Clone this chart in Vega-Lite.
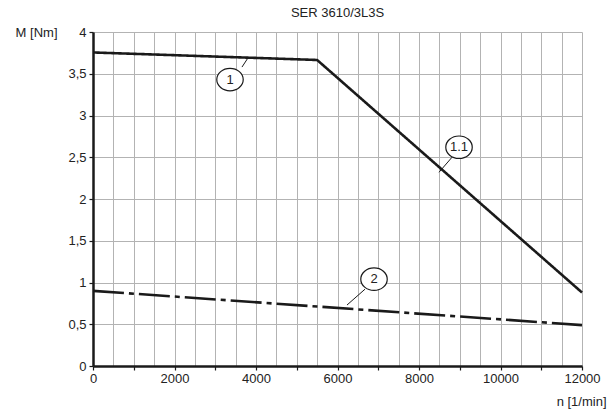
{
  "$schema": "https://vega.github.io/schema/vega-lite/v6.json",
  "width": 489,
  "height": 334,
  "autosize": {"type": "none"},
  "padding": {"left": 93, "top": 32, "right": 28, "bottom": 44},
  "background": "white",
  "config": {
    "view": {"stroke": null},
    "font": "Liberation Sans",
    "text": {"font": "Liberation Sans"}
  },
  "title": {
    "text": "SER 3610/3L3S",
    "fontSize": 13,
    "fontWeight": "normal",
    "color": "#222",
    "anchor": "middle",
    "offset": 6
  },
  "datasets": {
    "curves": [
      {"s": "1", "n": 0, "M": 3.755},
      {"s": "1", "n": 5500, "M": 3.665},
      {"s": "1", "n": 12000, "M": 0.88},
      {"s": "2", "n": 0, "M": 0.9},
      {"s": "2", "n": 12000, "M": 0.49}
    ],
    "leaders": [
      {"n": 3656, "M": 3.58, "n2": 3804, "M2": 3.69},
      {"n": 8810, "M": 2.5, "n2": 8491, "M2": 2.32},
      {"n": 6675, "M": 0.92, "n2": 6233, "M2": 0.73}
    ],
    "labels": [
      {"label": "1", "n": 3362, "M": 3.43},
      {"label": "1.1", "n": 8982, "M": 2.62},
      {"label": "2", "n": 6896, "M": 1.04}
    ]
  },
  "encoding": {
    "x": {
      "field": "n",
      "type": "quantitative",
      "scale": {"domain": [0, 12000], "nice": false, "zero": false},
      "axis": {
        "values": [0,500,1000,1500,2000,2500,3000,3500,4000,4500,5000,5500,6000,6500,7000,7500,8000,8500,9000,9500,10000,10500,11000,11500,12000],
        "grid": true,
        "gridColor": "#b3b3b3",
        "gridWidth": 1,
        "domainColor": "#1a1a1a",
        "domainWidth": 2.5,
        "tickColor": "#1a1a1a",
        "tickSize": 4,
        "tickWidth": 1.2,
        "tickOpacity": {"condition": {"test": "datum.value % 1000 != 0", "value": 0}, "value": 1},
        "labelExpr": "datum.value % 2000 == 0 ? format(datum.value, 'd') : ''",
        "labelOverlap": false,
        "labelFlush": false,
        "labelFontSize": 13,
        "labelColor": "#222",
        "labelPadding": 2,
        "title": "n [1/min]",
        "titleFontSize": 13,
        "titleFontWeight": "normal",
        "titleColor": "#222",
        "titleAlign": "right",
        "titleBaseline": "middle",
        "titleX": 513,
        "titleY": 35
      }
    },
    "y": {
      "field": "M",
      "type": "quantitative",
      "scale": {"domain": [0, 4], "nice": false, "zero": false},
      "axis": {
        "values": [0,0.5,1,1.5,2,2.5,3,3.5,4],
        "grid": true,
        "gridColor": "#b3b3b3",
        "gridWidth": 1,
        "domainColor": "#1a1a1a",
        "domainWidth": 2.5,
        "tickColor": "#1a1a1a",
        "tickSize": 4,
        "tickWidth": 1.2,
        "labelExpr": "replace(format(datum.value, '~g'), '.', ',')",
        "labelOverlap": false,
        "labelFontSize": 13,
        "labelColor": "#222",
        "labelPadding": 3,
        "title": "M [Nm]",
        "titleAngle": 0,
        "titleFontSize": 13,
        "titleFontWeight": "normal",
        "titleColor": "#222",
        "titleAlign": "right",
        "titleBaseline": "middle",
        "titleX": -36,
        "titleY": 0
      }
    }
  },
  "layer": [
    {
      "data": {"name": "curves"},
      "mark": {"type": "line", "color": "#1a1a1a", "strokeWidth": 2.6, "strokeCap": "butt"},
      "encoding": {
        "detail": {"field": "s"},
        "strokeDash": {
          "field": "s",
          "type": "nominal",
          "scale": {"domain": ["1", "2"], "range": [[1, 0], [31, 5, 5, 5]]},
          "legend": null
        }
      }
    },
    {
      "data": {"name": "leaders"},
      "mark": {"type": "rule", "color": "#1a1a1a", "strokeWidth": 1},
      "encoding": {
        "x2": {"field": "n2"},
        "y2": {"field": "M2"}
      }
    },
    {
      "data": {"name": "labels"},
      "mark": {
        "type": "point",
        "shape": "M -1 0 A 1 0.85 0 1 0 1 0 A 1 0.85 0 1 0 -1 0 Z",
        "size": 700,
        "filled": true,
        "fill": "white",
        "stroke": "#1a1a1a",
        "strokeWidth": 1.2,
        "opacity": 1
      }
    },
    {
      "data": {"name": "labels"},
      "mark": {"type": "text", "fontSize": 13, "color": "#222", "baseline": "middle", "align": "center"},
      "encoding": {"text": {"field": "label"}}
    }
  ]
}
